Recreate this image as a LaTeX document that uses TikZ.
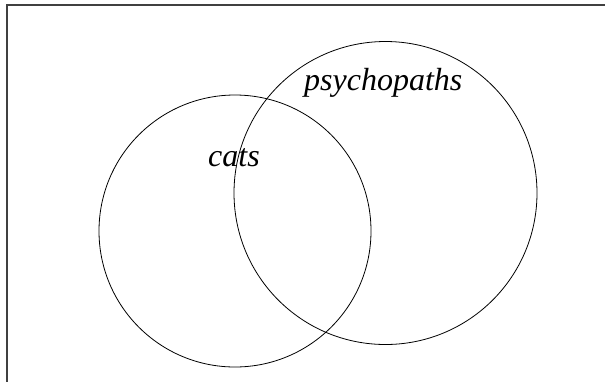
\documentclass[tikz,border=0pt]{standalone}
\usepackage{fontspec}
\setmainfont{Liberation Serif}
\begin{document}
\begin{tikzpicture}[x=1pt,y=-1pt,
  setcircle/.style={circle,draw=black,line width=0.8pt,inner sep=0pt},
  setlabel/.style={font=\fontsize{32}{38}\selectfont\itshape,inner sep=0pt,anchor=base west},
  framefrag/.style={draw=black!75,line width=1.3pt}]
\useasboundingbox (0,0) rectangle (605,381);
\coordinate (ftl) at (7,5);
\coordinate (ftr) at (606,5);
\coordinate (fbl) at (7,382);
\draw[framefrag] (ftr) -- (ftl) -- (fbl);
\node[setcircle,minimum size=272pt] (cats) at (235,231) {};
\node[setcircle,minimum size=303pt] (psy) at (385.5,193) {};
\node[setlabel] (catslabel) at (208,166) {cats};
\node[setlabel] (psylabel) at (304,90) {psychopaths};
\end{tikzpicture}
\end{document}
